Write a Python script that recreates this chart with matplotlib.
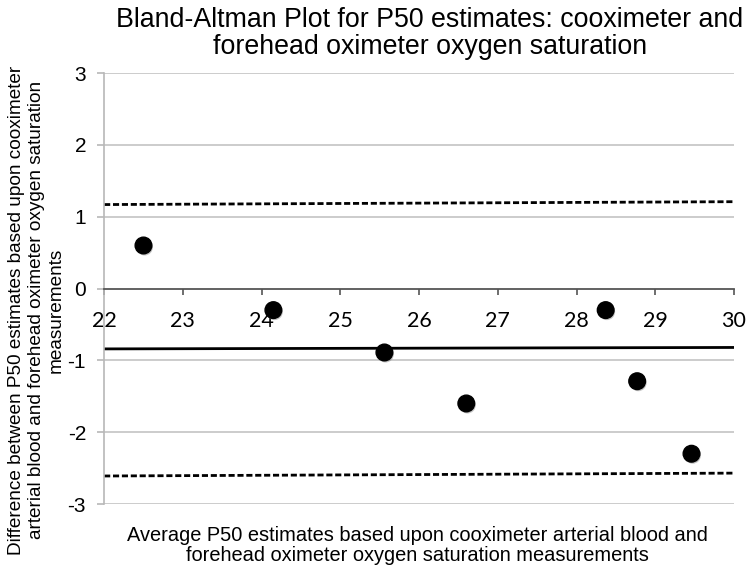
import matplotlib
matplotlib.use("Agg")
import matplotlib.pyplot as plt
import matplotlib.patheffects as pe

plt.rcParams["axes.unicode_minus"] = False

# Data
avg_p50 = [22.5, 24.15, 25.56, 26.6, 28.37, 28.77, 29.46]
diff_p50 = [0.6, -0.3, -0.89, -1.6, -0.3, -1.29, -2.3]
line_x = [22, 30]
mean_line = [-0.84, -0.82]
upper_loa = [1.17, 1.21]
lower_loa = [-2.61, -2.57]
xticks = [22, 23, 24, 25, 26, 27, 28, 29, 30]
yticks = [-3, -2, -1, 0, 1, 2, 3]

fig = plt.figure(figsize=(7.49, 5.76), dpi=100)
ax = fig.add_axes([0.139, 0.125, 0.841, 0.748])

for y in yticks:
    if y != 0:
        ax.axhline(y, color="#c4c4c4", lw=1.2, zorder=0)

ax.plot(line_x, mean_line, color="black", lw=2, zorder=2)
ax.plot(line_x, upper_loa, color="black", lw=2, ls=(0, (2.2, 1.0)), zorder=2)
ax.plot(line_x, lower_loa, color="black", lw=2, ls=(0, (2.2, 1.0)), zorder=2)
ax.plot(avg_p50, diff_p50, ls="none", marker="o", ms=12, color="black", zorder=3,
        path_effects=[pe.SimplePatchShadow(offset=(0.8, -1.2), shadow_rgbFace="#888888", alpha=0.5),
                      pe.Normal()])

ax.set_xlim(22, 30)
ax.set_ylim(-3, 3)
ax.set_xticks(xticks)
ax.set_yticks(yticks)

for s in ["top", "right"]:
    ax.spines[s].set_visible(False)
ax.spines["left"].set_color("#b8b8b8")
ax.spines["left"].set_linewidth(1.2)
ax.spines["bottom"].set_position(("data", 0))
ax.spines["bottom"].set_color("#555555")
ax.spines["bottom"].set_linewidth(1.3)
ax.tick_params(axis="x", direction="out", length=4, width=1.2, color="#555555", pad=12,
               labelsize=15.5)
ax.tick_params(axis="y", direction="out", length=5, width=1.2, color="#b8b8b8", pad=8,
               labelsize=15)
for lab in ax.get_xticklabels():
    lab.set_fontfamily("Lato")
for lab in ax.get_yticklabels():
    lab.set_fontfamily("Liberation Sans")

fig.text(0.574, 0.988,
         "Bland-Altman Plot for P50 estimates: cooximeter and\nforehead oximeter oxygen saturation",
         ha="center", va="top", fontfamily="Liberation Sans", fontsize=19.3, linespacing=1.05,
         multialignment="center")

fig.text(0.049, 0.462,
         "Difference between P50 estimates based upon cooximeter\narterial blood and forehead oximeter oxygen saturation\nmeasurements",
         rotation=90, ha="center", va="center", fontfamily="Liberation Sans", fontsize=13.7,
         linespacing=1.22, multialignment="center")

fig.text(0.557, 0.053,
         "Average P50 estimates based upon cooximeter arterial blood and\nforehead oximeter oxygen saturation measurements",
         ha="center", va="center", fontfamily="Liberation Sans", fontsize=14.4, linespacing=1.1,
         multialignment="center")

fig.savefig("out.png", dpi=100)
